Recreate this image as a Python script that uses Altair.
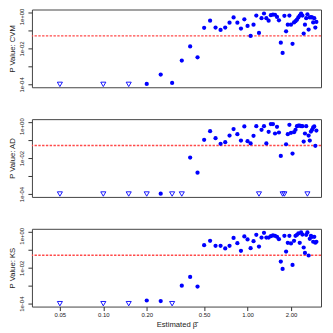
import math
import altair as alt
import pandas as pd

# ---- data ----
beta = [0.05, 0.10, 0.15, 0.20, 0.25, 0.30, 0.35, 0.40, 0.45, 0.50,
        0.55, 0.60, 0.65, 0.70, 0.75, 0.80, 0.85, 0.90, 0.95, 1.00,
        1.05, 1.10, 1.15, 1.20, 1.25, 1.30, 1.35, 1.40, 1.45, 1.50,
        1.55, 1.60, 1.65, 1.70, 1.75, 1.80, 1.85, 1.90, 1.95, 2.00,
        2.05, 2.10, 2.15, 2.20, 2.25, 2.30, 2.35, 2.40, 2.45, 2.50,
        2.55, 2.60, 2.65, 2.70, 2.75, 2.80, 2.85, 2.90, 2.95, 3.00]

p_cvm = [0, 0, 0, 1.05e-4, 3.5e-4, 1.2e-4, 2.1e-3, 0.013, 3.2e-3, 0.14,
         0.35, 0.145, 0.107, 0.145, 0.27, 0.53, 0.27, 0.128, 0.42, 0.18,
         0.05, 0.21, 0.68, 0.073, 0.48, 0.88, 0.48, 0.35, 0.71, 0.77,
         0.75, 0.57, 0.37, 0.021, 0.0056, 0.65, 0.09, 0.21, 0.68, 0.21,
         0.018, 0.28, 0.33, 0.4, 0.53, 0.68, 0.88, 0.68, 0.067, 0.21,
         0.48, 0.8, 0.112, 0.53, 0.55, 0.53, 0.28, 0.48, 0.145, 0.3]

p_ad = [0, 0, 0, 0, 1.05e-4, 0, 0, 0.0107, 0.00155, 0.104,
        0.315, 0.128, 0.062, 0.077, 0.18, 0.41, 0.214, 0.095, 0.575, 0.087,
        0.065, 0.173, 0.6, 0, 0.375, 0.6, 0.065, 0.29, 0.78, 0.78,
        0.234, 0.55, 0.266, 0.0132, 0, 0, 0.059, 0.214, 0.71, 0.255,
        0.0178, 0.277, 0.375, 0.6, 0.65, 0.65, 0.6, 0.6, 0.083, 0.234,
        0.6, 0, 0.18, 0.095, 0.3, 0.375, 0.51, 0.575, 0.048, 0.34]

p_ks = [0, 0, 0, 1.5e-4, 1.4e-4, 0, 1.0e-3, 3.1e-3, 8.9e-4, 0.18,
        0.315, 0.166, 0.166, 0.118, 0.166, 0.46, 0.234, 0.087, 0.55, 0.375,
        0.123, 0.30, 0.68, 0.152, 0.48, 0.88, 0.48, 0.48, 0.575, 0.63,
        0.6, 0.53, 0.39, 0.022, 0.0086, 0.6, 0.08, 0.244, 0.6, 0.224,
        0.0144, 0.315, 0.6, 0.68, 0.81, 0.244, 0.92, 0.7, 0.134, 0.067,
        0.68, 0.92, 0.048, 0.41, 0.6, 0.53, 0.28, 0.53, 0.25, 0.28]

panel_titles = ["P Value: CVM", "P Value: AD", "P Value: KS"]
alpha_level = 0.05
p_floor = 1e-4
y_ticks = [1, 0.1, 0.01, 0.001, 0.0001]
y_tick_labels = ["1e+00", "", "1e-02", "", "1e-04"]
x_ticks = [0.05, 0.10, 0.20, 0.50, 1.00, 2.00]
x_title = "Estimated \u03b2\u0302"
x_domain = [0.032, 3.23]
y_domain = [6.9e-5, 1.47]

FONT = "Liberation Sans"
BLUE = "#0000ff"

y_label_expr = "".join(
    f"abs(log(datum.value)/LN10 - ({math.log10(v):.4f})) < 0.01 ? '{lab}' : "
    for v, lab in zip(y_ticks, y_tick_labels)
) + "''"


def panel(pvals, title, show_x):
    df = pd.DataFrame({"beta": beta, "p": pvals})
    df["below"] = df["p"] < p_floor
    df["p_plot"] = df["p"].clip(lower=p_floor)

    if show_x:
        xaxis = alt.Axis(values=x_ticks, format=".2f", title=x_title,
                         tickSize=4, labelPadding=1, labelFontSize=6,
                         titleFontSize=7.7, titlePadding=3, labelFlush=False)
    else:
        xaxis = None
    xenc = alt.X("beta:Q", scale=alt.Scale(type="log", domain=x_domain, nice=False, zero=False),
                 axis=xaxis)
    yenc = alt.Y("p_plot:Q", scale=alt.Scale(type="log", domain=y_domain, nice=False, zero=False),
                 axis=alt.Axis(values=y_ticks, labelExpr=y_label_expr, title=title,
                               tickSize=4, labelPadding=3, labelAngle=270,
                               labelAlign="center", labelBaseline="bottom",
                               labelOffset={"condition": {"test": "datum.value > 0.5", "value": 4},
                                            "value": 0},
                               labelFontSize=6, titleFontSize=7.7, titlePadding=2,
                               labelFlush=False, labelOverlap=False))

    base = alt.Chart(df).encode(x=xenc, y=yenc)
    rule = alt.Chart(pd.DataFrame({"a": [alpha_level]})).mark_rule(
        color="#ff4a4a", strokeDash=[2.4, 1.4], strokeWidth=1.4
    ).encode(y=alt.datum(alpha_level))
    dots = base.transform_filter("!datum.below").mark_circle(size=18, color=BLUE, opacity=1)
    tris = base.transform_filter("datum.below").mark_point(
        shape="triangle-down", filled=False, size=26, color=BLUE, strokeWidth=0.9, opacity=1)
    return alt.layer(rule, dots, tris).properties(width=290, height=78)


chart = alt.vconcat(
    panel(p_cvm, panel_titles[0], False),
    panel(p_ad, panel_titles[1], False),
    panel(p_ks, panel_titles[2], True),
    spacing=32, bounds="flush",
).properties(
    padding={"left": 0, "top": -1, "right": 2, "bottom": 0}
).configure_view(
    stroke="#444444", strokeWidth=1
).configure_axis(
    domain=False, grid=False, tickColor="#333333", labelColor="#222222",
    titleColor="#222222", labelFont=FONT, titleFont=FONT, titleFontWeight="normal"
)

chart.save("out.html", embed_options={"renderer": "svg", "actions": False})
